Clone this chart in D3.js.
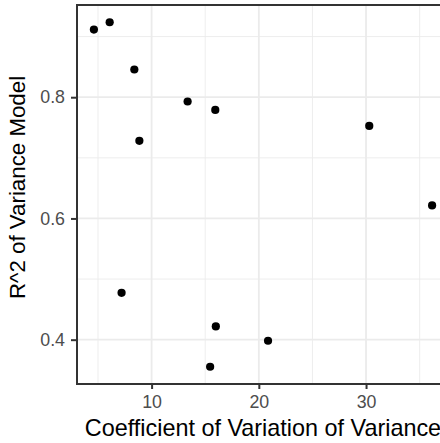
<!DOCTYPE html>
<html>
<head>
<meta charset="utf-8">
<script src="https://cdn.jsdelivr.net/npm/d3@7"></script>
<style>
html, body { margin: 0; padding: 0; background: #fff; overflow: hidden; }
svg { display: block; font-family: "Liberation Sans", Arial, sans-serif; }
</style>
</head>
<body>
<svg id="chart" width="440" height="443"></svg>
<script>
const cvValues = [4.62, 6.09, 8.39, 8.86, 13.36, 15.94, 30.3, 36.16, 7.2, 15.99, 15.46, 20.86];
const r2Values = [0.9116, 0.9237, 0.8457, 0.728, 0.7929, 0.779, 0.7527, 0.6214, 0.4773, 0.4219, 0.3553, 0.3982];
const xMajorTicks = [10, 20, 30];
const xMinorTicks = [5, 15, 25, 35];
const yMajorTicks = [0.4, 0.6, 0.8];
const yMinorTicks = [0.5, 0.7, 0.9];
const xTitle = "Coefficient of Variation of Variance";
const yTitle = "R^2 of Variance Model";

const svg = d3.select("#chart");
const pLeft = 77, pRight = 449, pTop = 5, pBottom = 384;

function expand(ext) {
  const r = ext[1] - ext[0];
  return [ext[0] - 0.05 * r, ext[1] + 0.05 * r];
}
const x = d3.scaleLinear().domain(expand(d3.extent(cvValues))).range([pLeft, pRight]);
const y = d3.scaleLinear().domain(expand(d3.extent(r2Values))).range([pBottom, pTop]);

const g = svg.append("g");
g.append("rect").attr("x", pLeft).attr("y", pTop).attr("width", pRight - pLeft).attr("height", pBottom - pTop).attr("fill", "#fff");

// minor grid
g.selectAll(".xminor").data(xMinorTicks).join("line").attr("class", "xminor")
  .attr("x1", d => x(d)).attr("x2", d => x(d)).attr("y1", pTop).attr("y2", pBottom)
  .attr("stroke", "#EBEBEB").attr("stroke-width", 0.9);
g.selectAll(".yminor").data(yMinorTicks).join("line").attr("class", "yminor")
  .attr("y1", d => y(d)).attr("y2", d => y(d)).attr("x1", pLeft).attr("x2", pRight)
  .attr("stroke", "#EBEBEB").attr("stroke-width", 0.9);
// major grid
g.selectAll(".xmajor").data(xMajorTicks).join("line").attr("class", "xmajor")
  .attr("x1", d => x(d)).attr("x2", d => x(d)).attr("y1", pTop).attr("y2", pBottom)
  .attr("stroke", "#EBEBEB").attr("stroke-width", 1.8);
g.selectAll(".ymajor").data(yMajorTicks).join("line").attr("class", "ymajor")
  .attr("y1", d => y(d)).attr("y2", d => y(d)).attr("x1", pLeft).attr("x2", pRight)
  .attr("stroke", "#EBEBEB").attr("stroke-width", 1.8);

// points
const pts = cvValues.map((v, i) => ({ cv: v, r2: r2Values[i] }));
g.selectAll("circle").data(pts).join("circle")
  .attr("cx", d => x(d.cv)).attr("cy", d => y(d.r2)).attr("r", 4.1).attr("fill", "#000");

// border
g.append("rect").attr("x", pLeft).attr("y", pTop).attr("width", pRight - pLeft).attr("height", pBottom - pTop)
  .attr("fill", "none").attr("stroke", "#333333").attr("stroke-width", 2);

// axes
const xAxis = d3.axisBottom(x).tickValues(xMajorTicks).tickSize(5).tickPadding(6).tickFormat(d3.format("d"));
const xa = svg.append("g").attr("transform", `translate(0,${pBottom})`).call(xAxis);
xa.select(".domain").remove();
xa.selectAll(".tick line").attr("stroke", "#333333").attr("stroke-width", 2);
xa.selectAll(".tick text").attr("fill", "#4D4D4D").attr("font-size", "17.8px")
  .attr("font-family", "Liberation Sans, Arial, sans-serif");

const yAxis = d3.axisLeft(y).tickValues(yMajorTicks).tickSize(6).tickPadding(6).tickFormat(d3.format(".1f"));
const ya = svg.append("g").attr("transform", `translate(${pLeft},0)`).call(yAxis);
ya.select(".domain").remove();
ya.selectAll(".tick line").attr("stroke", "#333333").attr("stroke-width", 2);
ya.selectAll(".tick text").attr("fill", "#4D4D4D").attr("font-size", "17.8px")
  .attr("font-family", "Liberation Sans, Arial, sans-serif");

// titles
svg.append("text").attr("x", 263).attr("y", 436).attr("text-anchor", "middle")
  .attr("font-size", "23.4px").attr("fill", "#000").text(xTitle);
svg.append("text").attr("transform", `translate(25,${(pTop + pBottom) / 2 - 7}) rotate(-90)`)
  .attr("text-anchor", "middle").attr("font-size", "22.3px").attr("fill", "#000").text(yTitle);
</script>
</body>
</html>
